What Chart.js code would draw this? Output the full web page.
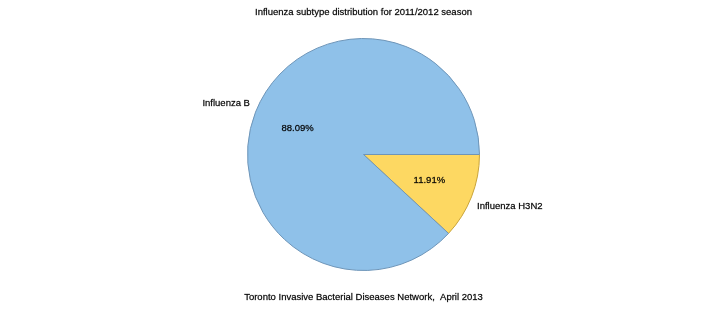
<!DOCTYPE html>
<html>
<head>
<meta charset="utf-8">
<script src="https://cdn.jsdelivr.net/npm/chart.js@4"></script>
<style>
  html, body { margin: 0; padding: 0; background: #fff; }
  #wrap { width: 727px; height: 310px; position: relative; }
</style>
</head>
<body>
<div id="wrap"><canvas id="pie"></canvas></div>
<script>
const labels = ['Influenza H3N2', 'Influenza B']
const shares = [11.91, 88.09]
const colours = ['#FDD862', '#8FC1E9']
const borders = ['#C9A43A', '#6E95B8']

const titleText = 'Influenza subtype distribution for 2011/2012 season'
const footText = 'Toronto Invasive Bacterial Diseases Network,  April 2013'

const font = '9.5px "Liberation Sans", Arial, sans-serif'

// draw text with a hairline stroke so it looks as heavy as the original
function heavyText(ctx, txt, x, y) {
    ctx.strokeText(txt, x, y)
    ctx.fillText(txt, x, y)
}

// percentages inside the slices, names just outside, title and footer text
const sliceText = {
    id: 'sliceText',
    afterDatasetsDraw(chart) {
        const ctx = chart.ctx
        const arcs = chart.getDatasetMeta(0).data
        ctx.save()
        ctx.font = font
        ctx.fillStyle = '#000'
        ctx.strokeStyle = 'rgba(0,0,0,0.6)'
        ctx.lineWidth = 0.35
        arcs.forEach((arc, i) => {
            const mid = (arc.startAngle + arc.endAngle) / 2
            const r = arc.outerRadius
            const c = Math.cos(mid), s = Math.sin(mid)
            ctx.textAlign = 'center'
            ctx.textBaseline = 'middle'
            heavyText(ctx, shares[i].toFixed(2) + '%', arc.x + c * r * 0.61, arc.y + s * r * 0.61)
            ctx.textAlign = c >= 0 ? 'left' : 'right'
            const lx = arc.x + c * (r + 6)
            const ly = arc.y + s * (r + 6) + Math.sign(s) * 7
            heavyText(ctx, labels[i], lx, ly)
        })
        ctx.textAlign = 'center'
        ctx.textBaseline = 'middle'
        heavyText(ctx, titleText, chart.width / 2, 12)
        heavyText(ctx, footText, chart.width / 2, 297)
        ctx.restore()
    }
}

new Chart(document.getElementById('pie'), {
    type: 'pie',
    data: {
        labels: labels,
        datasets: [{
            data: shares,
            backgroundColor: colours,
            borderColor: borders,
            borderWidth: 1,
            hoverOffset: 0
        }]
    },
    options: {
        responsive: true,
        maintainAspectRatio: false,
        animation: false,
        rotation: 90, // first slice starts at 3 o'clock
        layout: { padding: { top: 38, bottom: 39 } },
        plugins: {
            legend: { display: false },
            tooltip: { enabled: false }
        }
    },
    plugins: [sliceText]
})
</script>
</body>
</html>
